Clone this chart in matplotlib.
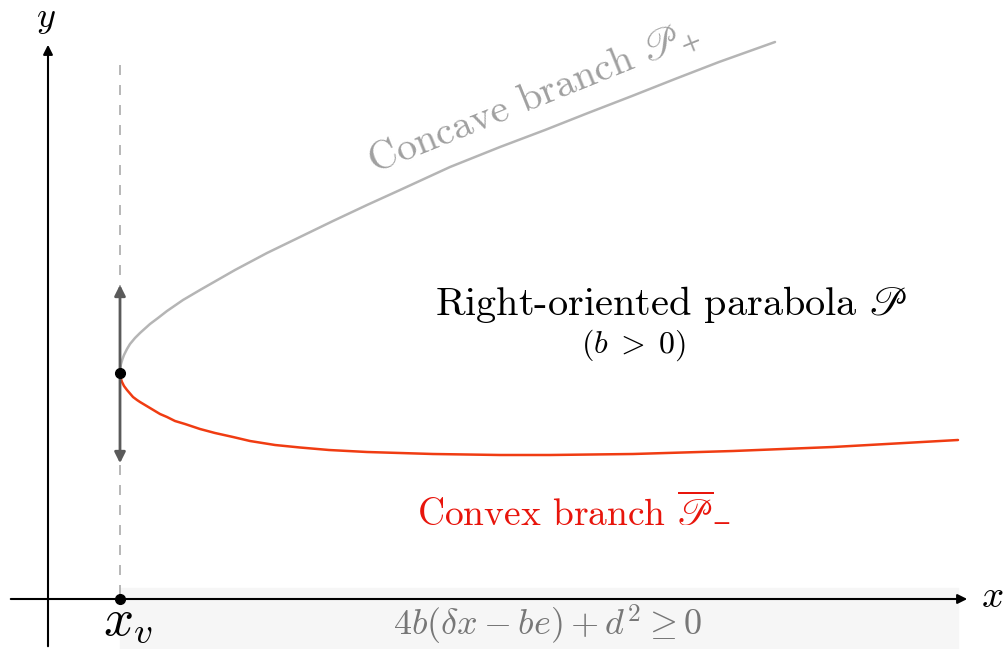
import numpy as np
import matplotlib.pyplot as plt

plt.rcParams['mathtext.fontset'] = 'cm'
plt.rcParams['axes.unicode_minus'] = False

# points (pixel-like units, y grows downward)
vertex = (120, 373)
upper_x = [120, 120.5, 121, 122.5, 124, 127, 130, 135, 140, 150, 158, 167, 183, 200, 235, 267, 300,
           333, 367, 400, 450, 500, 545, 588, 632, 675, 719, 775]
upper_y = [373, 367, 364, 359, 355, 349, 344, 338, 333, 324, 318, 311, 300, 290, 270, 253, 237,
           221, 205, 190, 167, 147, 130, 113, 96, 79, 62, 42]
lower_x = [120, 121, 122, 124, 127, 130, 133, 137, 140, 145, 150, 160, 167, 175, 185, 200, 215,
           233, 250, 275, 300, 329, 367, 433, 500, 550, 633, 733, 833, 958]
lower_y = [373, 379, 382, 386, 390, 393.5, 397, 400, 402, 405, 408, 414, 417, 421, 424, 429, 433,
           437, 441, 445, 447.5, 450, 452, 454, 455, 455, 454, 451, 447, 440]
x_axis_y = 599
y_axis_x = 48
band_x = (120, 958)

fig = plt.figure(figsize=(10.08, 6.49), dpi=100)
ax = fig.add_axes([0, 0, 1, 1])
ax.set_xlim(0, 1008)
ax.set_ylim(649, 0)
ax.axis('off')

# shaded band under the x axis
ax.fill_between(band_x, 588, 649, color='#f6f6f6', zorder=0)

# axes with arrows
ax.annotate('', xy=(970, x_axis_y), xytext=(8, x_axis_y),
            arrowprops=dict(arrowstyle='-|>', color='black', lw=1.5, mutation_scale=14))
ax.annotate('', xy=(y_axis_x, 42), xytext=(y_axis_x, 649),
            arrowprops=dict(arrowstyle='-|>', color='black', lw=1.5, mutation_scale=14))
ax.text(992, 607, '$x$', fontsize=28, ha='center', va='baseline')
ax.text(46, 27, '$y$', fontsize=26, ha='center', va='baseline')

# dashed vertical at x_v
ax.plot([vertex[0], vertex[0]], [65, x_axis_y], ls=(0, (6, 6)), color='#aaaaaa', lw=1.2)

# branches
ax.plot(upper_x, upper_y, color='#b5b5b5', lw=1.8, solid_capstyle='round', solid_joinstyle='round')
ax.plot(lower_x, lower_y, color='#f03c12', lw=1.8, solid_capstyle='round', solid_joinstyle='round')

# double arrow at vertex
ax.annotate('', xy=(vertex[0], 282), xytext=(vertex[0], 466),
            arrowprops=dict(arrowstyle='<|-|>', color='#5a5a5a', lw=2, mutation_scale=16))

ax.plot(*vertex, 'o', color='black', ms=7, zorder=5)
ax.plot(vertex[0], x_axis_y, 'o', color='black', ms=7, zorder=5)

# labels
ax.text(374, 174, r'Concave branch $\mathscr{P}_{+}$', family='cmr10', math_fontfamily='stix',
        fontsize=29, color='#a0a0a0', rotation=22, rotation_mode='anchor', ha='left', va='baseline')
ax.text(671, 315, r'Right-oriented parabola $\mathscr{P}$', family='cmr10', math_fontfamily='stix',
        fontsize=29, color='black', ha='center', va='baseline')
ax.text(634, 353, r'$(b\;>\;0)$', fontsize=23, ha='center', va='baseline')
ax.text(574, 521, r'Convex branch $\overline{\mathscr{P}}_{-}$', family='cmr10', math_fontfamily='stix',
        fontsize=27, color='#e8150c', ha='center', va='baseline')
ax.text(103, 635, '$x_v$', fontsize=38, ha='left', va='baseline')
ax.text(548, 636, r'$4b(\delta x - be) + d^2 \geq 0$', fontsize=26, color='#777777',
        ha='center', va='baseline')

fig.savefig('out.png', dpi=100)
